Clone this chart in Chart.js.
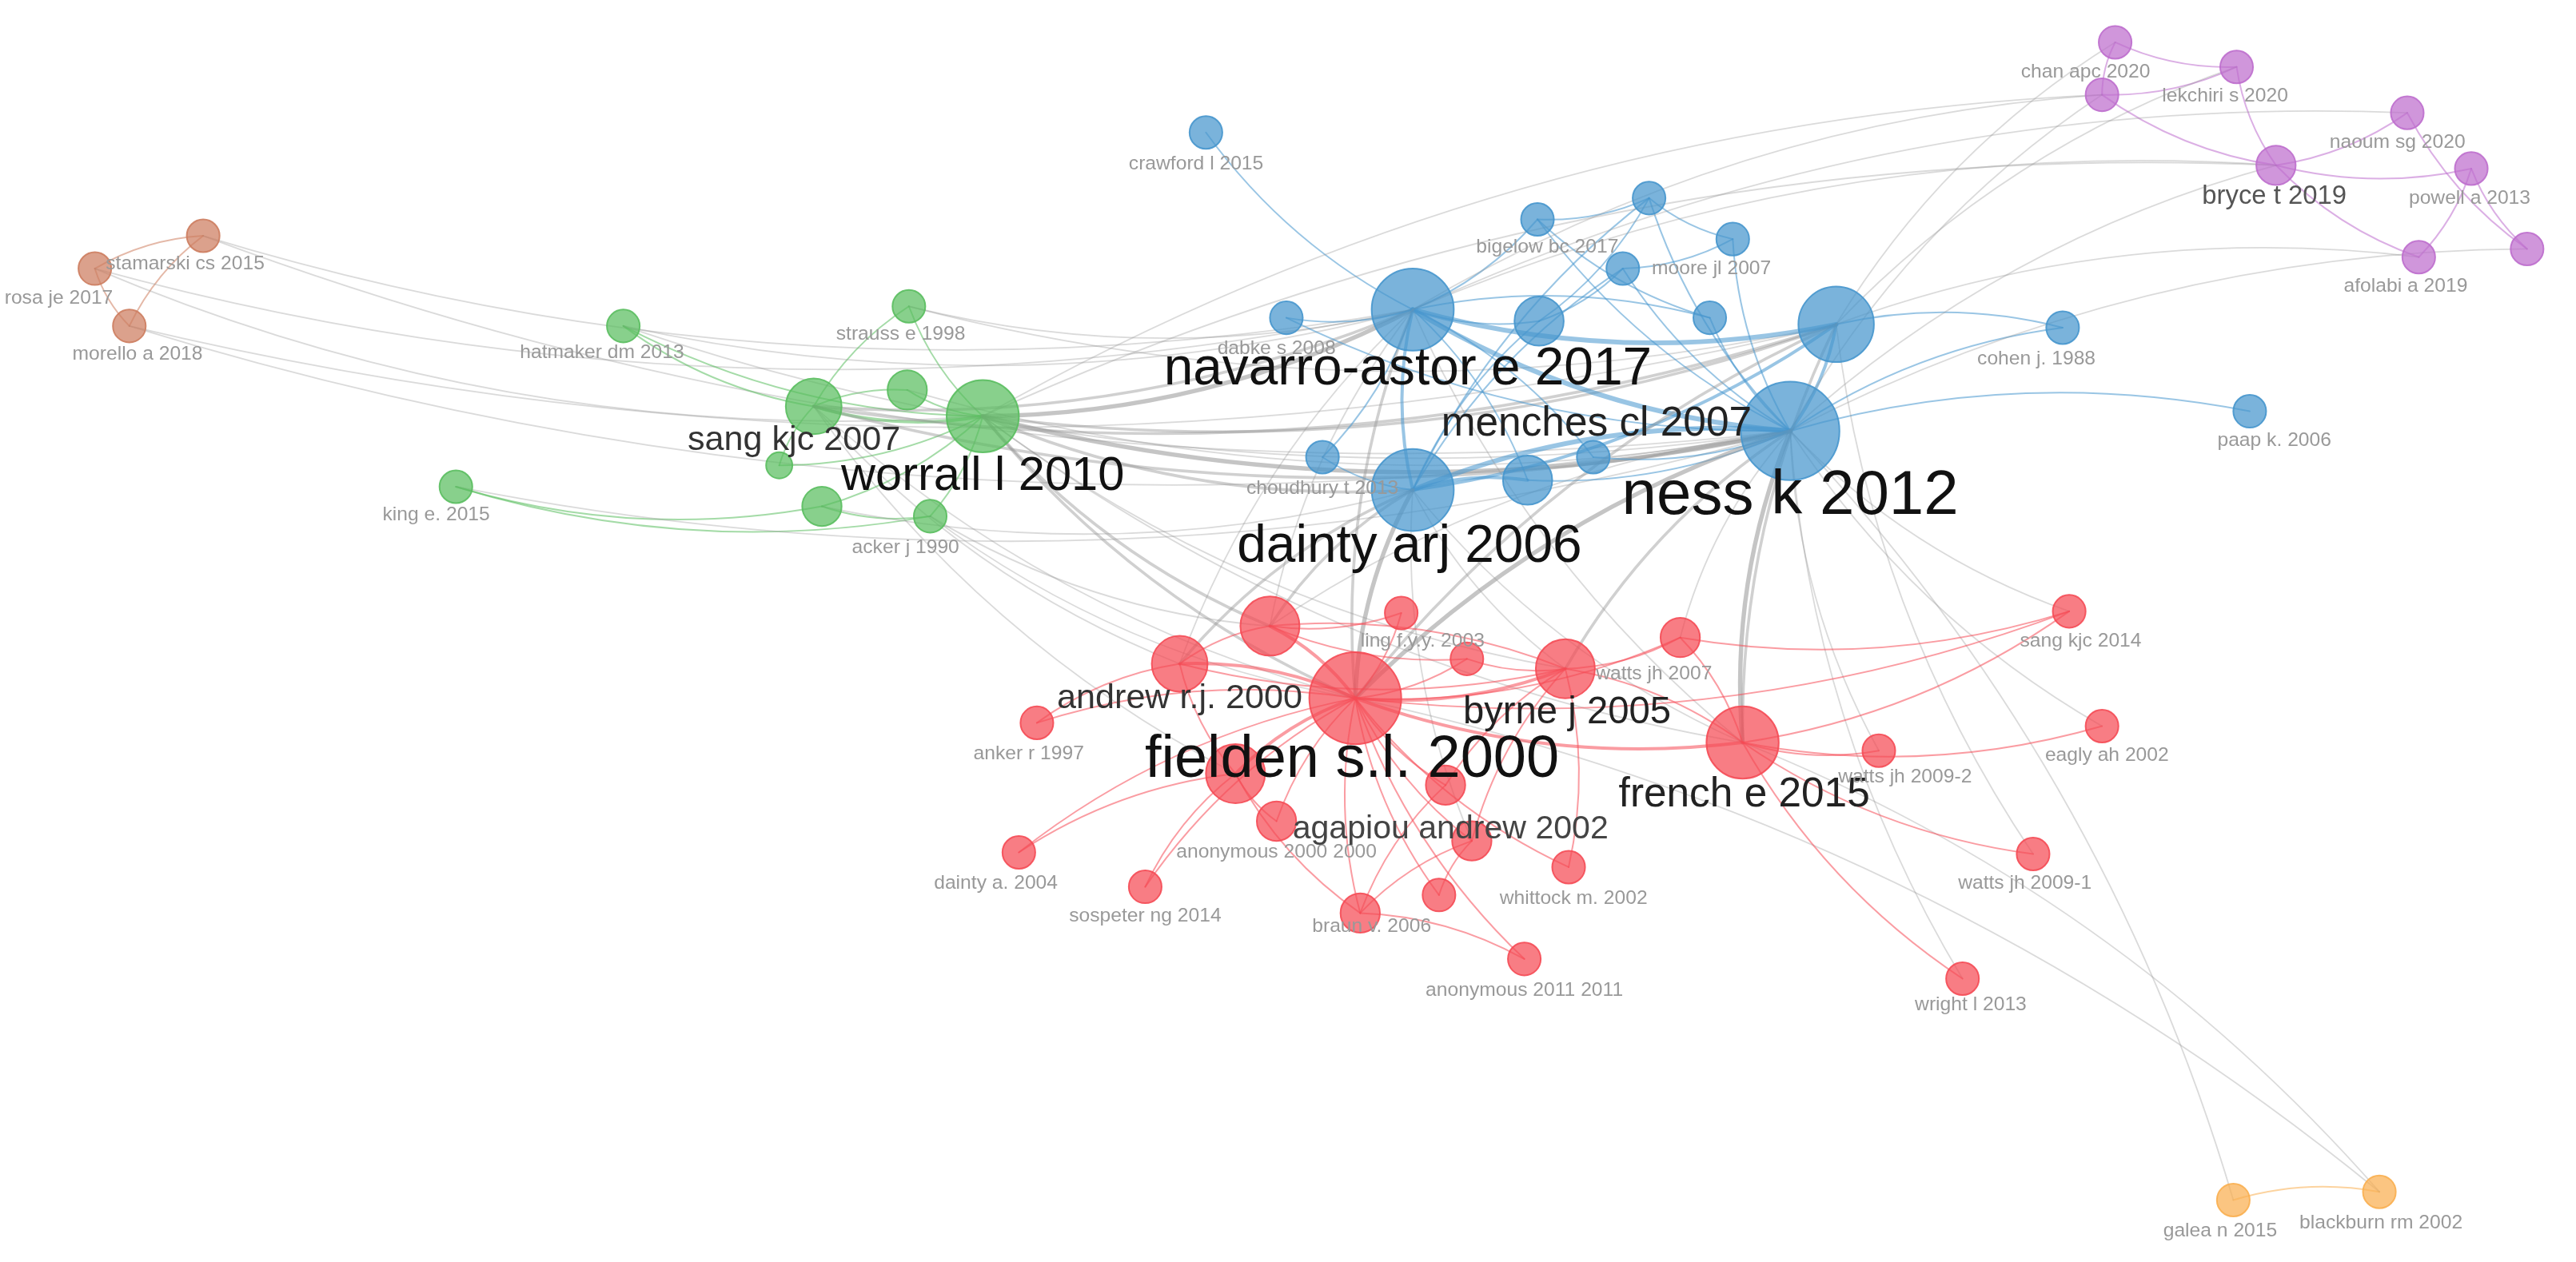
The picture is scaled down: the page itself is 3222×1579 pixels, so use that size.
<!DOCTYPE html>
<html><head><meta charset="utf-8">
<script src="https://cdn.jsdelivr.net/npm/chart.js@4/dist/chart.umd.min.js"></script>
<style>html,body{margin:0;padding:0;background:#fff;overflow:hidden;width:3222px;height:1579px}#wrap{position:absolute;left:-62px;top:-62px;width:3346px;height:1703px}</style>
</head><body><div id="wrap"><canvas id="c"></canvas></div>
<script>
// ---- data ----
const nodeIds=["br1","br2","br3",
"crawford","nav","right","ness","dainty","b937","b936","b1004","b1055","b988","b1041","b783","b805","b930","b970","cohen","paap",
"hat","str","sang","worrall","g552","g474","g500","acker","king",
"r773","ling","andrew","fielden","r893","byrne","watts07","french","sang14","anker","eagly","watts092","r752","r880","anon00","agapiou","dainty04","sospeter","r955","whittock","braun","anon11","watts091","wright",
"p1288","chan","lekchiri","naoum","bryce","powell","afolabi","p1539",
"blackburn","galea"];
const nodeX=[123,57,78, 734,860,1118,1090,860,937,936,1004,1055,988,1041,783,805,930,970,1256,1370,
379,553,495,598,552,474,500,566,277,
773,853,718,825,893,953,1023,1061,1260,631,1280,1144,752,880,777,896,620,697,955,876,828,928,1238,1195,
1288,1280,1362,1466,1386,1505,1473,1539, 1449,1360];
const nodeY=[143,163,198, 80,188,197,262,298,195,133,120,145,163,193,193,278,292,278,199,250,
198,186,247,253,237,283,308,314,296,
381,373,404,425,401,407,388,452,372,440,442,457,471,478,500,512,519,540,528,545,556,584,520,596,
25,57,40,68,100,102,156,151, 726,731];
const nodeWeight=[10,10,10, 10,25,23,30,25,15,10,10,10,10,10,10,10,15,10,10,10,
10,10,17,22,12,8,12,10,10,
18,10,17,28,10,18,12,22,10,10,10,10,18,12,12,12,10,10,10,10,12,10,10,10,
10,10,10,10,12,10,10,10, 10,10];
const nodeCluster=[5,5,5, 1,1,1,1,1,1,1,1,1,1,1,1,1,1,1,1,1, 2,2,2,2,2,2,2,2,2,
0,0,0,0,0,0,0,0,0,0,0,0,0,0,0,0,0,0,0,0,0,0,0,0, 3,3,3,3,3,3,3,3, 4,4];
const nodeLabels=["","rosa je 2017","morello a 2018",
"crawford l 2015","navarro-astor e 2017","","ness k 2012","dainty arj 2006","","bigelow bc 2017","","moore jl 2007","","","dabke s 2008","choudhury t 2013","menches cl 2007","","cohen j. 1988","paap k. 2006",
"hatmaker dm 2013","strauss e 1998","sang kjc 2007","worrall l 2010","","","","acker j 1990","king e. 2015",
"","ling f.y.y. 2003","andrew r.j. 2000","fielden s.l. 2000","","byrne j 2005","watts jh 2007","french e 2015","sang kjc 2014","anker r 1997","eagly ah 2002","watts jh 2009-2","","","anonymous 2000 2000","agapiou andrew 2002","dainty a. 2004","sospeter ng 2014","","whittock m. 2002","braun v. 2006","anonymous 2011 2011","watts jh 2009-1","wright l 2013",
"","chan apc 2020","lekchiri s 2020","naoum sg 2020","bryce t 2019","powell a 2013","afolabi a 2019","",
"blackburn rm 2002","galea n 2015"];
const extraLabels=[["stamarski cs 2015",112,160]];
const edges=[
["br1","br2",1],["br2","br3",1],["br1","br3",1],["br1","ness",1],["br2","nav",1],["br3","right",1],["br2","worrall",1],["br1","nav",1],["br3","ness",1],
["hat","sang",1],["hat","worrall",1],["str","worrall",1],["str","sang",1],["sang","worrall",2],["g552","worrall",1],["sang","g474",1],["g500","worrall",1],["g500","acker",1],["king","acker",1],["king","g500",1],["g552","sang",1],["g474","worrall",1],["acker","worrall",1],
["worrall","nav",3],["worrall","ness",3],["worrall","right",2],["worrall","dainty",2],["worrall","fielden",2],["worrall","r773",2],["sang","nav",2],["sang","ness",2],["sang","fielden",1],["sang","andrew",1],["str","right",1],["hat","nav",1],["g552","ness",1],["acker","fielden",1],["acker","r773",1],["king","ness",1],["worrall","french",1],["sang","right",2],["hat","ness",1],["str","nav",1],["g500","dainty",1],["worrall","byrne",1],["sang","r752",1],
["nav","ness",3],["nav","right",3],["nav","dainty",2],["ness","right",2],["ness","dainty",3],["dainty","right",2],["nav","b937",1],["nav","b936",1],["b937","b1004",1],["b936","b1004",1],["b1004","b1055",1],["b988","ness",1],["b1041","ness",1],["b783","nav",1],["b805","dainty",1],["b930","ness",1],["b970","ness",1],["b930","nav",1],["b1055","ness",1],["b936","ness",1],["b988","dainty",1],["b937","dainty",1],["b1041","nav",1],["b1004","ness",1],["b988","b1055",1],["b937","b988",1],["b805","nav",1],["b970","nav",1],["crawford","nav",1],["cohen","right",1],["paap","ness",1],["cohen","ness",1],["b1004","dainty",1],["b936","b1041",1],["b783","ness",1],["b930","dainty",2],
["ness","fielden",3],["ness","french",3],["nav","fielden",2],["dainty","fielden",3],["dainty","r773",2],["ness","byrne",2],["nav","french",1],["right","french",2],["dainty","andrew",2],["ness","watts07",1],["dainty","byrne",1],["ness","sang14",1],["ness","eagly",1],["right","watts091",1],["ness","wright",1],["dainty","agapiou",1],["nav","r773",1],["right","fielden",2],["ness","r773",1],["nav","andrew",1],["ness","watts092",1],["dainty","french",1],
["p1288","lekchiri",1],["chan","lekchiri",1],["chan","bryce",1],["lekchiri","bryce",1],["bryce","naoum",1],["bryce","powell",1],["naoum","p1539",1],["afolabi","powell",1],["bryce","afolabi",1],["powell","p1539",1],["p1288","chan",1],
["chan","nav",1],["chan","ness",1],["p1288","right",1],["bryce","ness",1],["bryce","nav",1],["afolabi","right",1],["p1539","ness",1],["bryce","worrall",1],["chan","worrall",1],["lekchiri","right",1],["naoum","nav",1],
["blackburn","galea",1],["blackburn","french",1],["galea","ness",1],["blackburn","fielden",1],
["fielden","r773",2],["fielden","andrew",2],["fielden","ling",1],["fielden","r893",1],["fielden","byrne",2],["fielden","watts07",1],["fielden","french",2],["fielden","anker",1],["fielden","r752",2],["fielden","r880",1],["fielden","anon00",1],["fielden","agapiou",1],["fielden","dainty04",1],["fielden","sospeter",1],["fielden","r955",1],["fielden","whittock",1],["fielden","braun",1],["fielden","anon11",1],["fielden","sang14",1],
["french","byrne",1],["french","watts092",1],["french","eagly",1],["french","watts091",1],["french","wright",1],["french","sang14",1],["french","watts07",1],["byrne","r773",1],["byrne","watts07",1],["byrne","agapiou",1],["byrne","r880",1],["r773","andrew",1],["r773","ling",1],["andrew","r752",1],["andrew","anker",1],["r752","anon00",1],["r752","braun",1],["r752","sospeter",1],["agapiou","braun",1],["agapiou","whittock",1],["r955","byrne",1],["anon11","braun",1],["r752","dainty04",1],["r880","braun",1],["andrew","byrne",1],["r773","r893",1],["watts07","sang14",1],["r893","byrne",1]
];
// ---- style ----
const clusterColor=["245,75,85","70,150,205","90,190,95","190,110,205","250,175,80","205,125,95"];
const scaleK=3222/1568;
const idx={}; nodeIds.forEach((id,i)=>idx[id]=i);
const bigStyle={"ness k 2012":[38,"#111"],"fielden s.l. 2000":[36,"#111"],"navarro-astor e 2017":[32,"#111"],"dainty arj 2006":[32,"#111"],"worrall l 2010":[29,"#111"],"menches cl 2007":[25,"#222"],"french e 2015":[25,"#222"],"byrne j 2005":[23,"#222"],"andrew r.j. 2000":[21,"#333"],"sang kjc 2007":[21,"#333"],"agapiou andrew 2002":[20,"#444"],"bryce t 2019":[16,"#555"]};
const labelOff={ "br2":[-22,18],"br3":[5,17],"crawford":[-6,19],"nav":[-3,37],"ness":[0,40],"dainty":[-2,35],"b936":[6,17],"b1055":[-13,18],"b783":[-6,19],"b805":[0,19],"b930":[42,-34],"cohen":[-16,19],"paap":[15,18],
"hat":[-13,16],"str":[-5,17],"sang":[-12,21],"worrall":[0,37],"acker":[-15,19],"king":[-12,17],
"ling":[13,17],"andrew":[0,21],"fielden":[-2,38],"byrne":[1,27],"watts07":[-16,22],"french":[1,32],"sang14":[7,18],"anker":[-5,19],"eagly":[3,18],"watts092":[16,16],"anon00":[0,19],"agapiou":[-13,-7],"dainty04":[-14,19],"sospeter":[0,18],"whittock":[82,2],"braun":[7,8],"anon11":[0,19],"watts091":[-5,18],"wright":[5,16],
"chan":[-10,-14],"lekchiri":[-7,18],"naoum":[-6,18],"bryce":[-1,19],"powell":[-1,18],"afolabi":[-8,18],"blackburn":[1,19],"galea":[-8,19]};

const edgePlugin={id:"edges",beforeDatasetsDraw(chart){
 const c=chart.ctx,xs=chart.scales.x,ys=chart.scales.y;
 c.save();c.lineCap="round";
 edges.forEach(([a,b,w])=>{const i=idx[a],j=idx[b];
  const x1=xs.getPixelForValue(nodeX[i]),y1=ys.getPixelForValue(nodeY[i]),x2=xs.getPixelForValue(nodeX[j]),y2=ys.getPixelForValue(nodeY[j]);
  const same=nodeCluster[i]===nodeCluster[j];
  const dx=x2-x1,dy=y2-y1;const mx=(x1+x2)/2-dy*0.12,my=(y1+y2)/2+dx*0.12;
  c.strokeStyle=same?`rgba(${clusterColor[nodeCluster[i]]},0.55)`:`rgba(150,150,150,${0.25+0.1*w})`;
  c.lineWidth=(same?2:1.8)*w;
  c.beginPath();c.moveTo(x1,y1);c.quadraticCurveTo(mx,my,x2,y2);c.stroke();});
 c.restore();}};
const labelPlugin={id:"labels",afterDatasetsDraw(chart){
 const c=chart.ctx,xs=chart.scales.x,ys=chart.scales.y;
 c.save();c.textAlign="center";c.textBaseline="middle";
 const draw=(t,x,y)=>{const s=bigStyle[t]||[12,"#999"];c.font=`${s[0]*scaleK}px "Liberation Sans", Arial, sans-serif`;c.fillStyle=s[1];c.fillText(t,xs.getPixelForValue(x),ys.getPixelForValue(y));};
 nodeLabels.forEach((t,i)=>{if(!t)return;const o=labelOff[nodeIds[i]]||[0,18];draw(t,nodeX[i]+o[0],nodeY[i]+o[1]);});
 extraLabels.forEach(([t,x,y])=>draw(t,x,y));
 c.restore();}};
const datasets=clusterColor.map((col,k)=>({
 data:nodeIds.map((id,i)=>({x:nodeX[i],y:nodeY[i],r:nodeWeight[i]*scaleK,k:nodeCluster[i]})).filter(p=>p.k===k),
 backgroundColor:`rgba(${col},0.72)`,borderColor:`rgba(${col},0.9)`,borderWidth:2}));
new Chart(document.getElementById("c"),{type:"bubble",data:{datasets},
 plugins:[edgePlugin,labelPlugin],
 options:{responsive:true,maintainAspectRatio:false,animation:false,
  layout:{padding:0},
  plugins:{legend:{display:false},tooltip:{enabled:false}},
  scales:{x:{type:"linear",min:0,max:1568,display:false},y:{type:"linear",min:0,max:768,reverse:true,display:false}}}});
</script></body></html>
